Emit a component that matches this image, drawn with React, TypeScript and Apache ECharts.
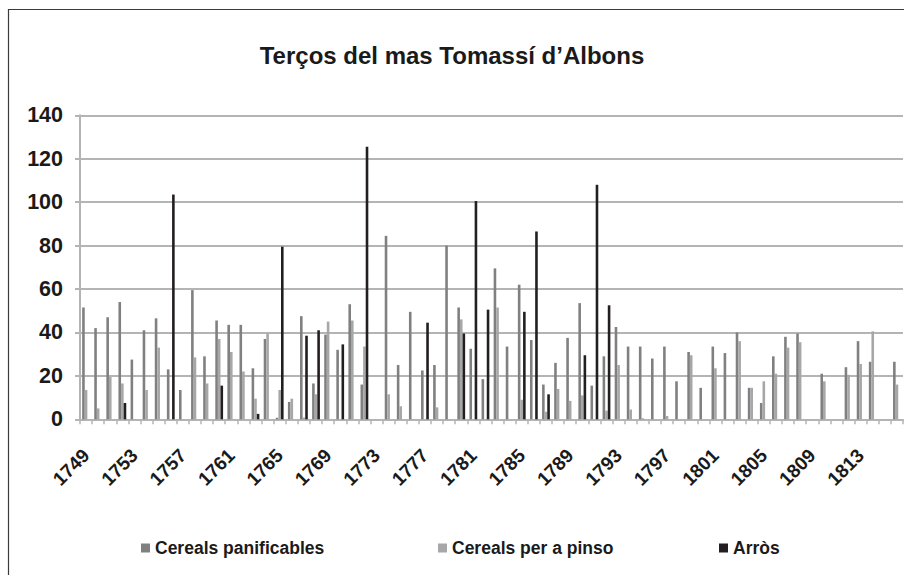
import React, { useEffect, useRef } from "react";
import * as echarts from "echarts";

const years: string[] = [];
for (let y = 1749; y <= 1816; y++) years.push(String(y));

const panificables = [
  51.5, 42, 47, 54, 27.5, 41, 46.5, 23, 13.5, 59.5,
  29, 45.5, 43.5, 43.5, 23.5, 37, 0.7, 8, 47.5, 16.5,
  39, 32, 53, 16, 0, 84.5, 25, 49.5, 22.5, 25,
  80, 51.5, 32.5, 18.5, 69.5, 33.5, 62, 36.5, 16, 26,
  37.5, 53.5, 15.5, 29, 42.5, 33.5, 33.5, 28, 33.5, 17.5,
  31, 14.5, 33.5, 30.5, 40, 14.5, 7.5, 29, 38, 39.5,
  0, 21, 0, 24, 36, 26.5, 0, 26.5,
];

const pinso = [
  13.5, 5, 19.5, 16.5, 0, 13.5, 33, 0, 0, 28.5,
  16.5, 37, 31, 22, 9.5, 39.5, 13.5, 9.5, 0.8, 11.5,
  45, 0, 45.5, 33.5, 0, 11.5, 6, 0, 0, 5.5,
  0, 46, 0, 0, 51.5, 0, 9, 0, 3.5, 14,
  8.5, 11, 0, 4, 25, 4.5, 0.5, 0, 1.5, 0,
  29.5, 0, 23.5, 0, 36, 14.5, 17.5, 21, 33, 35.5,
  0, 17.5, 0, 20.5, 25.5, 40.5, 0, 16,
];

const arros = [
  0, 0, 0, 7.5, 0, 0, 0, 103.5, 0, 0,
  0, 15.5, 0, 0, 2.5, 0, 79.5, 0, 38.5, 41,
  0, 34.5, 0, 125.5, 0, 0, 0, 0, 44.5, 0,
  0, 39.5, 100.5, 50.5, 0, 0, 49.5, 86.5, 11.5, 0,
  0, 29.5, 108, 52.5, 0, 0, 0, 0, 0, 0,
  0, 0, 0, 0, 0, 0, 0, 0, 0, 0,
  0, 0, 0, 0, 0, 0, 0, 0,
];

const seriesNames = ["Cereals panificables", "Cereals per a pinso", "Arròs"];
const seriesColors = ["#808080", "#a7a7a9", "#231f20"];
const title = "Terços del mas Tomassí d’Albons";

const FONT = "'Liberation Sans', Arial, sans-serif";

export default function App() {
  const ref = useRef<HTMLDivElement>(null);
  useEffect(() => {
    document.body.style.margin = "0";
    if (!ref.current) return;
    const chart = echarts.init(ref.current, null, { renderer: "svg" });
    const values = [panificables, pinso, arros];
    const legendLeft = [136, 433, 714];
    chart.setOption({
      animation: false,
      backgroundColor: "#ffffff",
      title: {
        text: title,
        left: "center",
        top: 38,
        textStyle: { fontFamily: FONT, fontSize: 24, fontWeight: "bold", color: "#1a1a1a" },
      },
      legend: seriesNames.map((n, i) => ({
        data: [n],
        left: legendLeft[i],
        top: 534,
        itemWidth: 9,
        itemHeight: 9,
        itemGap: 5,
        icon: "rect",
        textStyle: { fontFamily: FONT, fontSize: 17.5, fontWeight: "bold", color: "#1a1a1a" },
      })),
      grid: { left: 80, right: 1, top: 115.3, bottom: 155.7, containLabel: false },
      graphic: [
        {
          type: "polyline",
          shape: { points: [[8.5, 575], [8.5, 9.5], [904, 9.5]] },
          style: { stroke: "#3a3a3a", lineWidth: 1.2, fill: "none" },
          silent: true,
        },
      ],
      xAxis: {
        type: "category",
        data: years,
        axisLine: { lineStyle: { color: "#b4b4b4", width: 2 } },
        axisTick: { show: true, interval: 0, length: 5, lineStyle: { color: "#b4b4b4", width: 1.5 } },
        axisLabel: {
          interval: 3,
          rotate: 45,
          margin: 33,
          fontFamily: FONT,
          fontSize: 19,
          fontWeight: "bold",
          color: "#1a1a1a",
        },
      },
      yAxis: {
        type: "value",
        min: 0,
        max: 140,
        interval: 20,
        axisLine: { show: true, lineStyle: { color: "#b4b4b4", width: 2 } },
        axisTick: { show: true, length: 5, lineStyle: { color: "#b4b4b4", width: 2 } },
        splitLine: { lineStyle: { color: "#b4b4b4", width: 2 } },
        axisLabel: {
          margin: 17,
          fontFamily: FONT,
          fontSize: 21.5,
          fontWeight: "bold",
          color: "#1a1a1a",
        },
      },
      series: seriesNames.map((n, i) => ({
        name: n,
        type: "bar",
        data: values[i],
        barWidth: 2.6,
        barGap: "0%",
        itemStyle: { color: seriesColors[i] },
      })),
    });
    return () => chart.dispose();
  }, []);
  return <div ref={ref} style={{ width: 904, height: 575 }} />;
}
